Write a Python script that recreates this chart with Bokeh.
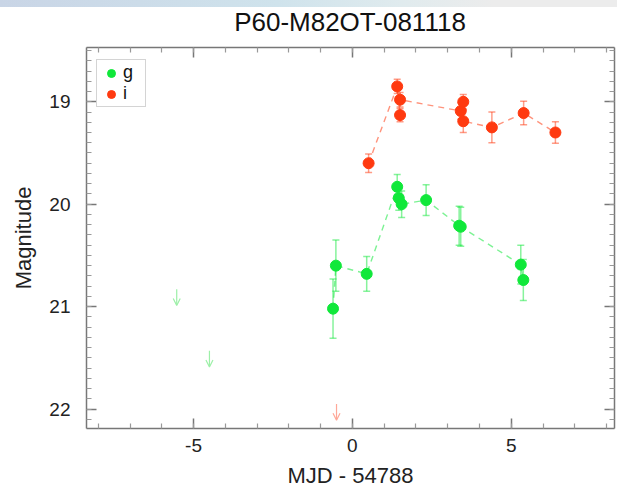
from bokeh.plotting import figure
from bokeh.models import (Range1d, Whisker, ColumnDataSource, Arrow, OpenHead,
                          Legend, LegendItem, Div, LinearAxis, FixedTicker)
from bokeh.layouts import column
from bokeh.embed import file_html
from bokeh.resources import INLINE

# ---- data ----
title_text = "P60-M82OT-081118"

g_t = [-0.61, -0.52, 0.45, 1.41, 1.46, 1.55, 2.32, 3.36, 3.41, 5.30, 5.38]
g_mag = [21.02, 20.60, 20.68, 19.83, 19.94, 20.00, 19.96, 20.21, 20.22, 20.59, 20.74]
g_err = [0.29, 0.25, 0.17, 0.12, 0.12, 0.13, 0.15, 0.19, 0.19, 0.19, 0.20]

i_t = [0.51, 1.41, 1.50, 1.50, 3.41, 3.49, 3.49, 4.39, 5.39, 6.39]
i_mag = [19.60, 18.85, 19.13, 18.98, 19.09, 19.00, 19.19, 19.25, 19.11, 19.30]
i_err = [0.09, 0.07, 0.065, 0.07, 0.08, 0.07, 0.11, 0.15, 0.115, 0.105]

g_lim_t = [-5.53, -4.50]
g_lim_mag = [20.83, 21.43]
i_lim_t = [-0.50]
i_lim_mag = [21.95]

x_ticks = [-5, 0, 5]
x_tick_labels = ["-5", "0", "5"]
y_ticks = [19, 20, 21, 22]

GREEN = "#10e83a"
RED = "#ff3a10"
GREEN_LT = "#9df0a8"
RED_LT = "#ffa898"
FONT = "Liberation Sans"
ARROW_LEN = 0.16

x_minor = list(range(-8, 9))
y_minor = [round(18.4 + 0.1 * k, 1) for k in range(40)]

p = figure(width=617, height=454, output_backend="svg",
           toolbar_location=None, x_range=Range1d(-8.37, 8.25),
           y_range=Range1d(22.19, 18.47),
           min_border_left=86, min_border_right=3, min_border_top=10,
           min_border_bottom=63, background_fill_color="white",
           border_fill_color="white", outline_line_color=None)
p.grid.visible = False

def style_axis(ax):
    ax.axis_line_color = "#777777"
    ax.axis_line_width = 1.5
    ax.major_tick_line_color = "#777777"
    ax.minor_tick_line_color = "#999999"
    ax.major_tick_line_width = 1.5
    ax.minor_tick_line_width = 1.2
    ax.major_tick_in = 10
    ax.major_tick_out = 0
    ax.minor_tick_in = 5
    ax.minor_tick_out = 0
    ax.major_label_text_font = FONT
    ax.major_label_text_font_size = "19px"
    ax.major_label_text_color = "#222222"
    ax.axis_label_text_font = FONT
    ax.axis_label_text_font_size = "22px"
    ax.axis_label_text_font_style = "normal"
    ax.axis_label_text_color = "#222222"

p.xaxis.ticker = FixedTicker(ticks=x_ticks, minor_ticks=x_minor)
p.yaxis.ticker = FixedTicker(ticks=y_ticks, minor_ticks=y_minor)
style_axis(p.xaxis[0])
style_axis(p.yaxis[0])
p.xaxis.major_label_overrides = dict(zip(x_ticks, x_tick_labels))
p.xaxis.axis_label = "MJD - 54788"
p.yaxis.axis_label = "Magnitude"
p.xaxis.major_label_standoff = 10
p.yaxis.major_label_standoff = 16
p.xaxis.axis_label_standoff = 8
p.yaxis.axis_label_standoff = 10

top_ax = LinearAxis(ticker=FixedTicker(ticks=x_ticks, minor_ticks=x_minor),
                    major_label_overrides={t: "" for t in x_ticks})
right_ax = LinearAxis(ticker=FixedTicker(ticks=y_ticks, minor_ticks=y_minor),
                      major_label_overrides={t: "" for t in y_ticks})
style_axis(top_ax)
style_axis(right_ax)
for ax in (top_ax, right_ax):
    ax.major_label_text_font_size = "1px"
    ax.major_label_standoff = 0
p.add_layout(top_ax, "above")
p.add_layout(right_ax, "right")

# dashed connecting lines
p.line(g_t, g_mag, line_color=GREEN, line_alpha=0.55, line_width=1.4, line_dash="6 5")
p.line(i_t, i_mag, line_color=RED, line_alpha=0.55, line_width=1.4, line_dash="6 5")

# error bars
for t, m, e, c in ((g_t, g_mag, g_err, GREEN), (i_t, i_mag, i_err, RED)):
    src = ColumnDataSource(dict(x=t, lo=[a - b for a, b in zip(m, e)],
                                hi=[a + b for a, b in zip(m, e)]))
    w = Whisker(source=src, base="x", lower="lo", upper="hi", dimension="height",
                line_color=c, line_alpha=0.5, line_width=1.5)
    for h in (w.upper_head, w.lower_head):
        h.size = 7
        h.line_color = c
        h.line_alpha = 0.5
        h.line_width = 1.5
    p.add_layout(w)

rg = p.scatter(g_t, g_mag, size=11, fill_color=GREEN, line_color=GREEN)
ri = p.scatter(i_t, i_mag, size=11, fill_color=RED, line_color=RED)

# upper limits
for t, m, c in ((g_lim_t, g_lim_mag, GREEN_LT), (i_lim_t, i_lim_mag, RED_LT)):
    for a, b in zip(t, m):
        p.add_layout(Arrow(x_start=a, y_start=b, x_end=a, y_end=b + ARROW_LEN,
                           line_color=c, line_width=1.2,
                           end=OpenHead(size=7, line_color=c, line_width=1.2)))

legend = Legend(items=[LegendItem(label="g", renderers=[rg]),
                       LegendItem(label="i", renderers=[ri])],
                location=(10, 321))
legend.label_text_font = FONT
legend.label_text_font_size = "18px"
legend.label_text_color = "#111111"
legend.glyph_width = 24
legend.glyph_height = 20
legend.label_height = 16
legend.label_standoff = 0
legend.spacing = -9
legend.padding = 2
legend.margin = 0
legend.border_line_color = "#aaaaaa"
legend.border_line_width = 1.5
legend.background_fill_color = "white"
p.add_layout(legend, "center")

strip = Div(text="", width=617, height=7, margin=0,
            styles={"background": "linear-gradient(to right, #c9d5e6, #cfe3ec 45%, #e0ebee 65%, #ececec 80%)"})

title_div = Div(
    text=('<div style="width:528px;margin-left:86px;text-align:center;'
          'font-family:\'Liberation Sans\';font-size:26px;line-height:30px;'
          'color:#111111;white-space:nowrap;">' + title_text + '</div>'),
    width=617, height=30, margin=0)

layout = column(strip, title_div, p, spacing=0, margin=0)

open("out.html", "w").write(file_html(layout, INLINE))
